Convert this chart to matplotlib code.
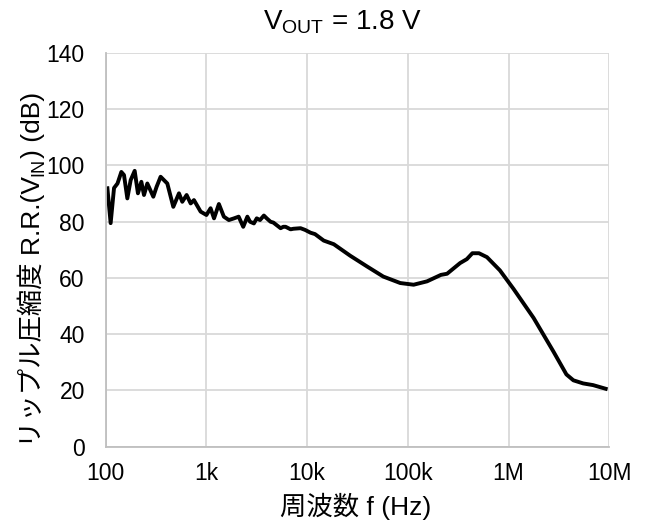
import numpy as np
import matplotlib
matplotlib.use("Agg")
import matplotlib.pyplot as plt
from matplotlib.ticker import FixedLocator, FixedFormatter, NullLocator

plt.rcParams['font.family'] = ['Liberation Sans', 'Noto Sans CJK JP', 'DejaVu Sans']

# 周波数 (Hz) と リップル圧縮度 (dB)
freq = [104, 112, 121, 131, 143, 152, 164, 177, 194, 209, 226, 240, 259, 297,
        320, 351, 409, 469, 534, 576, 636, 698, 752, 876, 1000, 1100, 1190,
        1330, 1490, 1670, 1880, 2090, 2320, 2550, 2710, 2960, 3160, 3405,
        3720, 3970, 4330, 4620, 5450, 5800, 6110, 6850, 7300, 8600, 9530,
        10.8e3, 11.97e3, 14.6e3, 18.4e3, 26.8e3, 39.3e3, 57e3, 84e3,
        114e3, 155e3, 213e3, 245e3, 330e3, 385e3, 437e3, 508e3, 610e3, 820e3,
        1.12e6, 1.77e6, 2.78e6, 3.75e6, 4.4e6, 5.5e6, 6.9e6, 9.2e6]
rr_db = [91.9, 79.5, 92.0, 93.6, 97.7, 96.6, 88.3, 94.8, 98.1, 90.1, 94.2,
         89.5, 93.6, 88.9, 92.4, 96.0, 93.6, 85.3, 90.1, 87.1, 89.5, 86.5,
         87.7, 83.6, 82.4, 84.8, 81.2, 86.3, 81.8, 80.6, 81.2, 81.8, 78.2,
         81.8, 80.0, 79.4, 81.2, 80.6, 82.2, 81.2, 80.0, 79.7, 77.7, 78.2,
         78.2, 77.3, 77.5, 77.7, 77.1, 76.1, 75.6, 73.3, 72.0,
         67.9, 64.1, 60.5, 58.2, 57.6, 58.8, 61.1, 61.5, 65.3, 66.7, 68.8,
         68.8, 67.4, 62.7, 56.1, 45.8, 33.9, 25.7, 23.6, 22.5, 21.9, 20.6]

x_ticks = [1e2, 1e3, 1e4, 1e5, 1e6, 1e7]
x_labels = ['100', '1k', '10k', '100k', '1M', '10M']
y_ticks = [0, 20, 40, 60, 80, 100, 120, 140]

fig = plt.figure(figsize=(6.48, 5.27), dpi=100)
ax = fig.add_axes([0.1631, 0.1524, 0.7772, 0.747])

ax.plot(freq, rr_db, color='black', linewidth=2.8, solid_joinstyle='round')

ax.set_xscale('log')
ax.set_xlim(1e2, 1e7)
ax.set_ylim(0, 140)
ax.xaxis.set_major_locator(FixedLocator(x_ticks))
ax.xaxis.set_major_formatter(FixedFormatter(x_labels))
ax.xaxis.set_minor_locator(NullLocator())
ax.set_yticks(y_ticks)

ax.grid(True, color='#d9d9d9', linewidth=1.3)
ax.set_axisbelow(True)
for s in ['top', 'right']:
    ax.spines[s].set_visible(False)
for s in ['left', 'bottom']:
    ax.spines[s].set_color('#bfbfbf')
    ax.spines[s].set_linewidth(1.3)
ax.tick_params(axis='both', length=0, labelsize=16.5)
ax.tick_params(axis='x', pad=11)
ax.tick_params(axis='y', pad=15)

# タイトル
fig.text(0.529, 0.944, r'V$_\mathregular{OUT}$ = 1.8 V', ha='center',
         va='baseline', fontsize=20)

# 横軸ラベル
fig.text(0.549, 0.0228, '周波数 f (Hz)', ha='center', va='baseline', fontsize=19)

# 縦軸ラベル (添字 IN を別テキストでつなぐ)
lab1 = fig.text(0.0687, 0.152, 'リップル圧縮度 R.R.(V', rotation=90,
                ha='right', va='bottom', fontsize=19)
lab2 = ax.annotate('IN', xy=(1, 1), xycoords=lab1, xytext=(1.8, 0),
                   textcoords='offset points', rotation=90,
                   ha='right', va='bottom', fontsize=13)
lab3 = ax.annotate(') (dB)', xy=(1, 1), xycoords=(lab1, lab2),
                   xytext=(0, 0), textcoords='offset points', rotation=90,
                   ha='right', va='bottom', fontsize=19)

fig.savefig('out.png', dpi=100)
